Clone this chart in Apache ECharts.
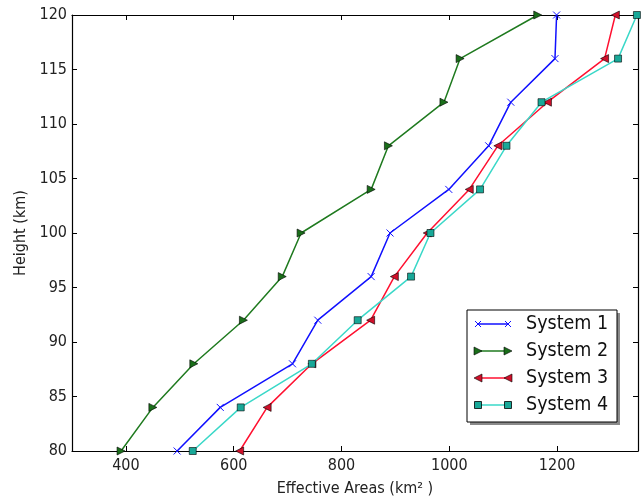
<!DOCTYPE html>
<html>
<head>
<meta charset="utf-8">
<script src="https://cdn.jsdelivr.net/npm/echarts@6/dist/echarts.min.js"></script>
<style>
html,body{margin:0;padding:0;background:#fff;}
#chart{width:643px;height:502px;}
</style>
</head>
<body>
<div id="chart"></div>
<script>
// ---- data ----
const heights = [80, 84, 88, 92, 96, 100, 104, 108, 112, 116, 120];
const system1 = [495, 575, 709, 756, 855, 890, 999, 1073, 1114, 1196, 1199];
const system2 = [391, 450, 526, 618, 690, 725, 855, 887, 990, 1020, 1164];
const system3 = [611, 662, 745, 854, 898, 959, 1037, 1090, 1182, 1288, 1308];
const system4 = [524, 613, 745, 830, 929, 965, 1057, 1106, 1171, 1313, 1348];
const seriesNames = ['System 1', 'System 2', 'System 3', 'System 4'];
const xTicks = [400, 600, 800, 1000, 1200];
const yTicks = [80, 85, 90, 95, 100, 105, 110, 115, 120];
const xAxisTitle = 'Effective Areas (km\u00B2 )';
const yAxisTitle = 'Height (km)';

// ---- styles ----
const FONT = '"DejaVu Sans Condensed", "DejaVu Sans"';
const colors = ['#1010ff', '#1f7a1f', '#ff1030', '#3ad8c8'];
const markerFill = ['#1010ff', '#1a6e1a', '#d0102a', '#18a898'];
const symbols = [
  'path://M0,0L10,10M10,0L0,10',
  'path://M0,0L10,5L0,10Z',
  'path://M10,0L0,5L10,10Z',
  'rect'
];
const symbolSizes = [7, 8, 8, 7];
const seriesData = [system1, system2, system3, system4];

const chart = echarts.init(document.getElementById('chart'), null, {renderer: 'canvas'});

const series = seriesData.map((vals, i) => ({
  name: seriesNames[i],
  type: 'line',
  xAxisIndex: 0,
  yAxisIndex: 0,
  data: vals.map((v, j) => [v, heights[j]]),
  symbol: symbols[i],
  symbolSize: symbolSizes[i],
  showAllSymbol: true,
  lineStyle: {color: colors[i], width: 1.5},
  itemStyle: i === 0
    ? {color: colors[0], borderColor: colors[0], borderWidth: 1}
    : {color: markerFill[i], borderColor: '#000', borderWidth: 0.6},
  emphasis: {disabled: true},
  animation: false,
  z: 2 + i
}));

// ---- legend drawn as graphic ----
const lgLeft = 467, lgTop = 310, lgW = 150, lgH = 112;
const rowY = [324, 351, 378, 405];
const graphics = [
  {type: 'rect', shape: {x: lgLeft + 3, y: lgTop + 3, width: lgW, height: lgH}, style: {fill: '#8a8a8a'}, z: 100},
  {type: 'rect', shape: {x: lgLeft, y: lgTop, width: lgW, height: lgH}, style: {fill: '#fff', stroke: '#000', lineWidth: 1}, z: 101}
];
function marker(kind, cx, cy, i) {
  const s = 4;
  if (kind === 0) {
    return [
      {type: 'line', shape: {x1: cx - 3, y1: cy - 3, x2: cx + 3, y2: cy + 3}, style: {stroke: colors[0], lineWidth: 1}, z: 103},
      {type: 'line', shape: {x1: cx - 3, y1: cy + 3, x2: cx + 3, y2: cy - 3}, style: {stroke: colors[0], lineWidth: 1}, z: 103}
    ];
  }
  if (kind === 1) {
    return [{type: 'polygon', shape: {points: [[cx - s, cy - s], [cx + s, cy], [cx - s, cy + s]]}, style: {fill: markerFill[i], stroke: '#000', lineWidth: 0.6}, z: 103}];
  }
  if (kind === 2) {
    return [{type: 'polygon', shape: {points: [[cx + s, cy - s], [cx - s, cy], [cx + s, cy + s]]}, style: {fill: markerFill[i], stroke: '#000', lineWidth: 0.6}, z: 103}];
  }
  return [{type: 'rect', shape: {x: cx - 3.5, y: cy - 3.5, width: 7, height: 7}, style: {fill: markerFill[i], stroke: '#000', lineWidth: 0.8}, z: 103}];
}
seriesNames.forEach((name, i) => {
  const y = rowY[i];
  graphics.push({type: 'line', shape: {x1: 478, y1: y, x2: 508, y2: y}, style: {stroke: colors[i], lineWidth: 1.5}, z: 102});
  marker(i, 478, y, i).forEach(g => graphics.push(g));
  marker(i, 508, y, i).forEach(g => graphics.push(g));
  graphics.push({type: 'text', x: 526, y: y, style: {text: name, font: '19.5px "DejaVu Sans Condensed", "DejaVu Sans"', fill: '#111', verticalAlign: 'middle', align: 'left'}, z: 103});
});

const xMin = 300, xMax = 1350, yMin = 80, yMax = 120;
const tickStyle = {show: true, inside: true, length: 5, lineStyle: {color: '#000', width: 1}};
const plainFmt = v => String(v);

const option = {
  backgroundColor: '#fff',
  animation: false,
  grid: {left: 72, right: 5, top: 15, bottom: 49, containLabel: false},
  xAxis: [
    {
      type: 'value', position: 'bottom', min: xMin, max: xMax,
      axisLine: {show: true, onZero: false, lineStyle: {color: '#000', width: 1.2}},
      axisTick: Object.assign({customValues: xTicks}, tickStyle),
      axisLabel: {customValues: xTicks, formatter: plainFmt, color: '#222', fontFamily: FONT, fontSize: 16, margin: 7},
      splitLine: {show: false},
      name: xAxisTitle, nameLocation: 'middle', nameGap: 30,
      nameTextStyle: {color: '#222', fontFamily: FONT, fontSize: 16}
    },
    {
      type: 'value', position: 'top', min: xMin, max: xMax,
      axisLine: {show: true, onZero: false, lineStyle: {color: '#000', width: 1.2}},
      axisTick: Object.assign({customValues: xTicks}, tickStyle),
      axisLabel: {show: false},
      splitLine: {show: false}
    }
  ],
  yAxis: [
    {
      type: 'value', position: 'left', min: yMin, max: yMax, interval: 5,
      axisLine: {show: true, onZero: false, lineStyle: {color: '#000', width: 1.2}},
      axisTick: tickStyle,
      axisLabel: {formatter: plainFmt, color: '#222', fontFamily: FONT, fontSize: 16, margin: 5},
      splitLine: {show: false},
      name: yAxisTitle, nameLocation: 'middle', nameGap: 36, nameRotate: 90,
      nameTextStyle: {color: '#222', fontFamily: FONT, fontSize: 16}
    },
    {
      type: 'value', position: 'right', min: yMin, max: yMax, interval: 5,
      axisLine: {show: true, onZero: false, lineStyle: {color: '#000', width: 1.2}},
      axisTick: tickStyle,
      axisLabel: {show: false},
      splitLine: {show: false}
    }
  ],
  series: series,
  graphic: graphics
};
chart.setOption(option);
</script>
</body>
</html>
